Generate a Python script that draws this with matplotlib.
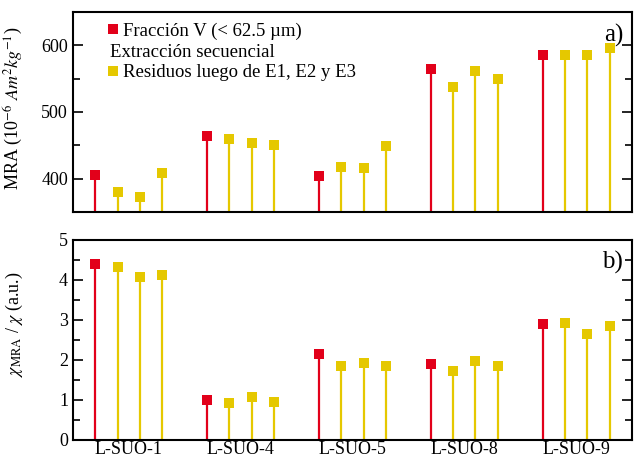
import numpy as np
import matplotlib
matplotlib.use("Agg")
import matplotlib.pyplot as plt
from matplotlib.lines import Line2D

plt.rcParams["font.family"] = ["Liberation Serif", "DejaVu Serif"]
plt.rcParams["mathtext.fontset"] = "stix"
plt.rcParams["font.size"] = 13

muestras = ["L-SUO-1", "L-SUO-4", "L-SUO-5", "L-SUO-8", "L-SUO-9"]

# MRA (10^-6 Am2/kg): fraccion V, luego residuos tras E1, E2, E3
mra_frac = [405, 464, 404, 565, 585]
mra_res = [[380, 373, 408],
           [459, 453, 451],
           [418, 416, 449],
           [537, 561, 549],
           [586, 586, 596]]

# chi_MRA / chi (a.u.)
chi_frac = [4.40, 1.01, 2.16, 1.90, 2.91]
chi_res = [[4.31, 4.07, 4.13],
           [0.92, 1.07, 0.96],
           [1.86, 1.92, 1.84],
           [1.73, 1.98, 1.84],
           [2.92, 2.64, 2.84]]

rojo = "#E2001A"
amarillo = "#E5C800"

grupo = np.arange(len(muestras)) * 5
x_frac = grupo
x_res = (grupo[:, None] + np.arange(1, 4)).ravel()

fig = plt.figure(figsize=(6.39, 4.59), dpi=100)
ax1 = fig.add_axes([0.1142, 0.538, 0.8748, 0.436])
ax2 = fig.add_axes([0.1142, 0.0414, 0.8748, 0.436])


def panel(ax, frac, res, base):
    res = np.ravel(res)
    ax.vlines(x_frac, base, frac, color=rojo, lw=1.6, zorder=2)
    ax.vlines(x_res, base, res, color=amarillo, lw=1.6, zorder=2)
    ax.plot(x_frac, frac, "s", color=rojo, ms=7.4, mew=0, zorder=3)
    ax.plot(x_res, res, "s", color=amarillo, ms=6.6, mew=0, zorder=3)
    ax.set_xlim(-1, 24)
    for s in ax.spines.values():
        s.set_linewidth(1.5)
    ax.tick_params(axis="y", which="both", direction="in", left=True, right=True,
                   width=1.2, labelsize=13)
    ax.tick_params(axis="y", which="major", length=7)
    ax.tick_params(axis="y", which="minor", length=5)


panel(ax1, mra_frac, mra_res, 350)
ax1.set_ylim(350, 650)
ax1.set_yticks([400, 500, 600])
ax1.set_yticks([350, 450, 550, 650], minor=True)
ax1.set_xticks([])
ax1.set_ylabel(r"MRA (10$^{-6}$ $Am^{2}kg^{-1}$)", fontsize=13)
ax1.yaxis.set_label_coords(-0.086, 0.52)
ax1.text(0.984, 0.88, "a)", transform=ax1.transAxes, ha="right", va="center", fontsize=18)

h1 = Line2D([], [], ls="none", marker="s", color=rojo, ms=7.4, mew=0)
h2 = Line2D([], [], ls="none", marker="s", color=amarillo, ms=6.6, mew=0)
ax1.legend([h1, h2], ["Fracción V (< 62.5 µm)", "Residuos luego de E1, E2 y E3"],
           loc="upper left", bbox_to_anchor=(0.062, 0.948), frameon=False,
           borderpad=0, borderaxespad=0, handlelength=0.6, handletextpad=0.2,
           labelspacing=1.3, fontsize=13.5)
ax1.text(0.066, 0.797, "Extracción secuencial", transform=ax1.transAxes,
         ha="left", va="center", fontsize=13.5)

panel(ax2, chi_frac, chi_res, 0)
ax2.set_ylim(0, 5)
ax2.set_yticks([0, 1, 2, 3, 4, 5])
ax2.set_yticks(np.arange(0.5, 5, 1), minor=True)
ax2.set_xticks(grupo + 1.5)
ax2.set_xticklabels(muestras, fontsize=13)
ax2.tick_params(axis="x", length=0, pad=1)
ax2.set_ylabel(r"$\chi_{\mathrm{MRA}}$ / $\chi$ (a.u.)", fontsize=13)
ax2.yaxis.set_label_coords(-0.086, 0.58)
ax2.text(0.984, 0.885, "b)", transform=ax2.transAxes, ha="right", va="center", fontsize=18)

fig.savefig("out.png", dpi=100)
